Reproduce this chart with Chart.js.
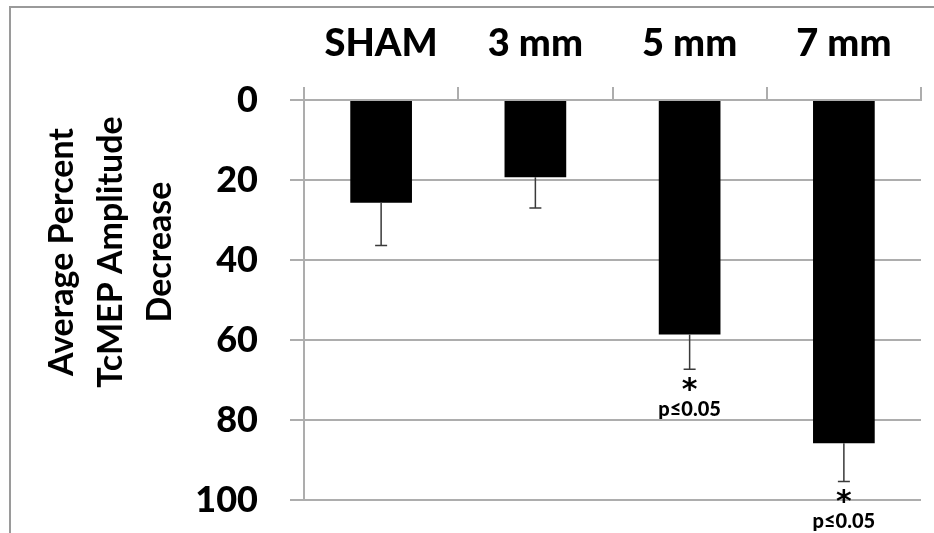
<!DOCTYPE html>
<html>
<head>
<meta charset="utf-8">
<script src="https://cdn.jsdelivr.net/npm/chart.js@4.4.1/dist/chart.umd.min.js"></script>
<style>
  html, body { margin: 0; padding: 0; background: #fff; }
  #wrap { width: 934px; height: 533px; position: relative; }
</style>
</head>
<body>
<div id="wrap"><canvas id="c" width="934" height="533"></canvas></div>
<script>
// ---- data ----
const categories = ['SHAM', '3 mm', '5 mm', '7 mm'];
const meanDecrease = [25.7, 19.3, 58.6, 85.8];
const errorSD = [10.7, 7.7, 8.7, 9.6];
const significanceMarks = ['', '', '*', '*'];
const pValueLabels = ['', '', 'p\u22640.05', 'p\u22640.05'];
const yTicks = [0, 20, 40, 60, 80, 100];
const yTitleLines = ['Average Percent', 'TcMEP Amplitude', 'Decrease'];

const gridColor = '#adadad';
const FONT = 'Lato, "Open Sans", sans-serif';

const framePlugin = {
  id: 'frame',
  beforeDraw(chart) {
    const ctx = chart.ctx;
    ctx.save();
    ctx.fillStyle = '#fff';
    ctx.fillRect(0, 0, chart.width, chart.height);
    ctx.strokeStyle = '#9a9a9a';
    ctx.lineWidth = 2;
    ctx.beginPath();
    ctx.moveTo(10, chart.height + 5);
    ctx.lineTo(10, 7);
    ctx.lineTo(chart.width + 5, 7);
    ctx.stroke();
    ctx.restore();
  }
};

const annotPlugin = {
  id: 'annot',
  afterDatasetsDraw(chart) {
    const ctx = chart.ctx;
    const xs = chart.scales.x, ys = chart.scales.y;
    ctx.save();
    ctx.strokeStyle = '#3a3a3a';
    ctx.lineWidth = 1.5;
    meanDecrease.forEach((v, i) => {
      const x = xs.getPixelForValue(i);
      const y0 = ys.getPixelForValue(v);
      const y1 = ys.getPixelForValue(v + errorSD[i]);
      ctx.beginPath();
      ctx.moveTo(x, y0);
      ctx.lineTo(x, y1);
      ctx.moveTo(x - 6, y1);
      ctx.lineTo(x + 6, y1);
      ctx.stroke();
      if (significanceMarks[i]) {
        ctx.fillStyle = '#000';
        ctx.textAlign = 'center';
        ctx.textBaseline = 'middle';
        ctx.font = 'bold 30px "DejaVu Sans", sans-serif';
        ctx.fillText(significanceMarks[i], x, y1 + 22);
        ctx.font = '900 20px ' + FONT;
        ctx.fillText(pValueLabels[i], x, y1 + 40);
      }
    });
    ctx.restore();
  },
  afterDraw(chart) {
    const ctx = chart.ctx;
    ctx.save();
    ctx.fillStyle = '#000';
    ctx.font = 'bold 34px ' + FONT;
    ctx.textAlign = 'center';
    ctx.textBaseline = 'middle';
    yTitleLines.forEach((t, i) => {
      ctx.save();
      ctx.translate(62 + i * 49, 252);
      ctx.rotate(-Math.PI / 2);
      ctx.fillText(t, 0, 0);
      ctx.restore();
    });
    ctx.restore();
  }
};

new Chart(document.getElementById('c'), {
  type: 'bar',
  data: {
    labels: categories,
    datasets: [{
      data: meanDecrease,
      backgroundColor: '#000',
      borderWidth: 0,
      barPercentage: 0.4,
      categoryPercentage: 1.0
    }]
  },
  options: {
    responsive: false,
    devicePixelRatio: 1,
    animation: false,
    layout: { padding: { left: 0, right: 13, top: 0, bottom: 33 } },
    plugins: { legend: { display: false }, tooltip: { enabled: false }, title: { display: false } },
    scales: {
      x: {
        position: 'top',
        grid: { offset: true, drawOnChartArea: false, drawTicks: true, tickLength: 13, color: gridColor, lineWidth: 2 },
        border: { display: true, color: gridColor, width: 2 },
        ticks: { font: { family: FONT, size: 38, weight: '900' }, color: '#000', padding: 20 },
        afterFit: s => { s.height = 100; }
      },
      y: {
        reverse: true,
        min: yTicks[0],
        max: yTicks[yTicks.length - 1],
        afterBuildTicks: s => { s.ticks = yTicks.map(v => ({ value: v })); },
        ticks: { font: { family: FONT, size: 36, weight: '900' }, color: '#000', padding: 32 },
        grid: { color: gridColor, lineWidth: 2, tickLength: 14 },
        border: { display: true, color: gridColor, width: 2 },
        afterFit: s => { s.width = 304; s.paddingTop = 0; s.paddingBottom = 0; }
      }
    }
  },
  plugins: [framePlugin, annotPlugin]
});
</script>
</body>
</html>
